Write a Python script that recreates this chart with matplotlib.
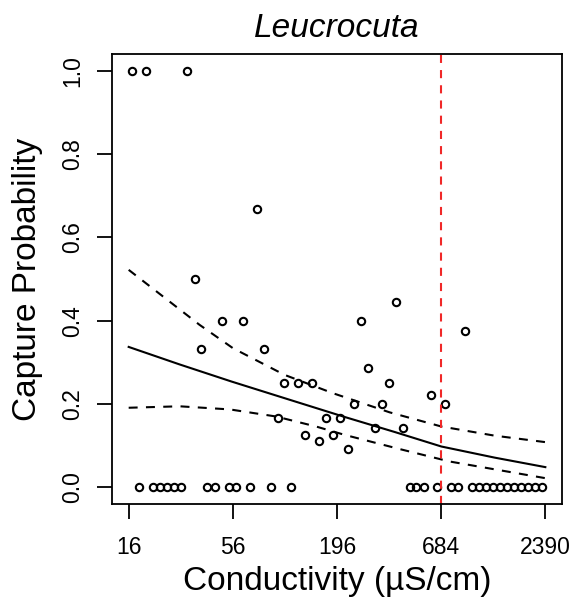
import numpy as np
import matplotlib
matplotlib.use("Agg")
import matplotlib.pyplot as plt

plt.rcParams['font.family'] = ['Liberation Sans', 'DejaVu Sans']

# observed capture proportions
cond = [16.6, 19.6, 32.4, 74.5, 35.4, 49.3, 63.2, 38.3, 81.3,
        104, 123, 145, 95.8, 172, 203.5, 133.6, 157.4, 186, 222,
        397, 260.7, 915, 283.7, 365, 602, 240.8, 335.6, 712, 308.5, 431.7]
prob = [1.0, 1.0, 1.0, 0.667, 0.5, 0.4, 0.4, 0.333, 0.333,
        0.25, 0.25, 0.25, 0.167, 0.167, 0.167, 0.125, 0.111, 0.125, 0.0909,
        0.444, 0.4, 0.375, 0.2857, 0.25, 0.222, 0.2, 0.2, 0.2, 0.1429, 0.1429]

cond_zero = [18.1, 21.4, 23.3, 25.4, 27.5, 29.9, 41.2, 45.1, 53.4, 58.1,
             68.7, 88.1, 113,
             468, 508, 553, 652, 772, 840, 993, 1081, 1175, 1279, 1391,
             1506, 1638, 1782, 1938, 2108, 2293]

# fitted curve and confidence band
fit_x = [16, 29.5, 55, 111, 214, 390, 685, 1300, 2390]
fit_y = [0.337, 0.295, 0.254, 0.210, 0.169, 0.133, 0.098, 0.0713, 0.0485]
up_x = [16, 37.5, 56, 104, 186, 368, 685, 1300, 2390]
up_y = [0.522, 0.39, 0.334, 0.270, 0.226, 0.18, 0.146, 0.124, 0.1085]
lo_x = [16, 29.5, 54, 94, 152, 214, 414, 757, 2390]
lo_y = [0.191, 0.1945, 0.187, 0.17, 0.146, 0.126, 0.092, 0.062, 0.022]

threshold = 685
xticks = [16, 56, 196, 684, 2390]
yticks = [0.0, 0.2, 0.4, 0.6, 0.8, 1.0]

fig = plt.figure(figsize=(5.75, 6.01), dpi=100)
ax = fig.add_axes([0.1948, 0.1614, 0.7826, 0.7487])

ax.plot(cond, prob, 'o', mfc='none', mec='black', ms=5.3, mew=1.5)
ax.plot(cond_zero, np.zeros(len(cond_zero)), 'o', mfc='none', mec='black', ms=5.3, mew=1.5)

ax.plot(fit_x, fit_y, color='black', lw=1.5)
ax.plot(up_x, up_y, color='black', lw=1.5, ls=(0, (4.3, 4.0)))
ax.plot(lo_x, lo_y, color='black', lw=1.5, ls=(0, (4.3, 4.0)))
ax.axvline(threshold, color='#f02828', lw=1.5, ls=(0, (3.9, 3.4)))

ax.set_xscale('log')
lo, hi = np.log(16), np.log(2390)
pad = 0.04 * (hi - lo)
ax.set_xlim(np.exp(lo - pad), np.exp(hi + pad))
ax.set_ylim(-0.04, 1.04)
ax.set_xticks(xticks)
ax.set_xticklabels([str(t) for t in xticks])
ax.minorticks_off()
ax.set_yticks(yticks)
ax.set_yticklabels(['%.1f' % t for t in yticks])

for s in ax.spines.values():
    s.set_linewidth(1.3)
ax.tick_params(length=11, width=1.3, labelsize=16.5)
ax.tick_params(axis='x', pad=12)
ax.tick_params(axis='y', pad=9)
for lab in ax.get_yticklabels():
    lab.set_rotation(90)
    lab.set_va('center')

ax.set_xlabel('Conductivity (µS/cm)', fontsize=24)
ax.set_ylabel('Capture Probability', fontsize=24)
ax.xaxis.set_label_coords(0.5, -0.137)
ax.yaxis.set_label_coords(-0.153, 0.5)
ax.set_title('Leucrocuta', fontsize=24, style='italic', pad=12.5)

fig.savefig('out.png', dpi=100)
